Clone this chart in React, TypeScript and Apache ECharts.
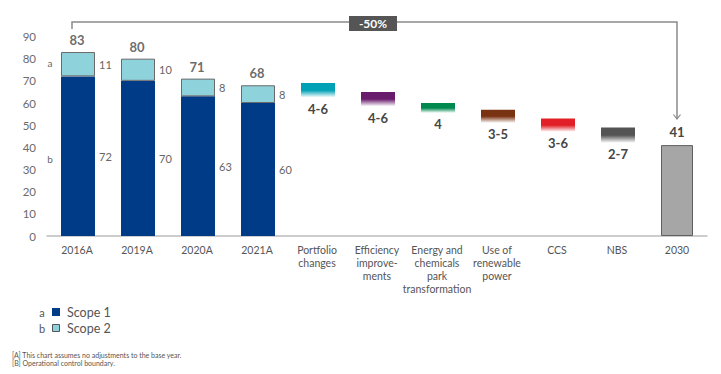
import React, { useEffect, useRef } from "react";
import * as echarts from "echarts";

const categories = [
  "2016A",
  "2019A",
  "2020A",
  "2021A",
  "Portfolio\nchanges",
  "Efficiency\nimprove-\nments",
  "Energy and\nchemicals\npark\ntransformation",
  "Use of\nrenewable\npower",
  "CCS",
  "NBS",
  "2030",
];

const scope1 = [72, 70, 63, 60];
const scope2 = [11, 10, 8, 8];
const totals = [83, 80, 71, 68];

// floating reduction bars (low end, high end) for levers
const leverLow = [62.5, 58.5, 55.5, 51, 47, 42];
const leverHigh = [69, 65, 60, 57, 53, 49];
const leverLabels = ["4-6", "4-6", "4", "3-5", "3-6", "2-7"];
const leverColors = ["#00A0B5", "#6A1C6C", "#00894F", "#7A3312", "#E21F26", "#545454"];

const target2030 = 41;
const yTicks = { min: 0, max: 90, interval: 10 };

const FONT = "Lato";

export default function App() {
  const ref = useRef<HTMLDivElement>(null);

  useEffect(() => {
    if (!ref.current) return;
    const chart = echarts.init(ref.current, null, { renderer: "svg" });
    const n = categories.length;
    const blank = (k: number) => Array.from({ length: k }, () => "-");

    const scope1Data = [...scope1, ...blank(n - scope1.length)];
    const scope2Data = [...scope2, ...blank(n - scope2.length)];
    const totalsData = [...totals, ...blank(n - totals.length)];

    const baseData = [
      ...blank(4),
      ...leverLow,
      "-",
    ];
    const rangeData: any[] = [
      ...blank(4),
      ...leverLow.map((lo, i) => ({
        value: +(leverHigh[i] - lo).toFixed(2),
        itemStyle: {
          color: new echarts.graphic.LinearGradient(0, 0, 0, 1, [
            { offset: 0, color: leverColors[i] },
            { offset: 0.5, color: leverColors[i] },
            { offset: 1, color: "#ffffff" },
          ]),
        },
        label: {
          show: true,
          position: "bottom",
          distance: 5,
          formatter: leverLabels[i],
          fontFamily: FONT,
          fontWeight: "bold",
          fontSize: 13,
          color: "#454545",
        },
      })),
      "-",
    ];
    const finalData = [...blank(n - 1), target2030];

    const labelStyle = { fontFamily: FONT, fontSize: 11, color: "#666" };

    chart.setOption({
      animation: false,
      textStyle: { fontFamily: FONT },
      grid: { left: 47, right: 14, top: 36.5, bottom: 138, containLabel: false },
      xAxis: {
        type: "category",
        data: categories,
        axisLine: { lineStyle: { color: "#bdbdbd", width: 1.5 } },
        axisTick: { show: false },
        axisLabel: {
          interval: 0,
          fontFamily: FONT,
          fontSize: 10.5,
          lineHeight: 13,
          color: "#555",
          margin: 7,
        },
      },
      yAxis: {
        type: "value",
        min: yTicks.min,
        max: yTicks.max,
        interval: yTicks.interval,
        axisLine: { show: false },
        axisTick: { show: false },
        splitLine: { show: false },
        axisLabel: { fontFamily: FONT, fontSize: 11.5, color: "#6b6b6b", margin: 11 },
      },
      series: [
        {
          name: "Scope 1",
          type: "bar",
          stack: "a",
          barWidth: 34,
          barGap: "-100%",
          data: scope1Data,
          itemStyle: { color: "#003B87" },
          label: { show: true, position: "right", distance: 4, ...labelStyle },
        },
        {
          name: "Scope 2",
          type: "bar",
          stack: "a",
          barWidth: 34,
          barGap: "-100%",
          data: scope2Data,
          itemStyle: { color: "#8ED2DC", borderColor: "#6a6a6a", borderWidth: 1 },
          label: { show: true, position: "right", distance: 4, ...labelStyle },
        },
        {
          name: "base",
          type: "bar",
          stack: "b",
          barWidth: 34,
          barGap: "-100%",
          data: baseData,
          itemStyle: { color: "transparent" },
          silent: true,
        },
        {
          name: "levers",
          type: "bar",
          stack: "b",
          barWidth: 34,
          barGap: "-100%",
          data: rangeData,
        },
        {
          name: "2030",
          type: "bar",
          stack: "c",
          barWidth: 32,
          barGap: "-100%",
          data: finalData,
          itemStyle: { color: "#A6A6A6", borderColor: "#5f5f5f", borderWidth: 1 },
          label: {
            show: true,
            position: "top",
            distance: 7,
            fontFamily: FONT,
            fontWeight: "bold",
            fontSize: 13,
            color: "#454545",
          },
        },
        {
          name: "totals",
          type: "scatter",
          symbolSize: 1,
          itemStyle: { color: "transparent" },
          data: totalsData,
          label: {
            show: true,
            position: "top",
            distance: 5,
            fontFamily: FONT,
            fontWeight: "bold",
            fontSize: 13,
            color: "#454545",
          },
        },
      ],
      graphic: [
        {
          type: "polyline",
          shape: { points: [[72, 29], [72, 22], [677, 22], [677, 119]] },
          style: { stroke: "#8a8a8a", lineWidth: 1.5, fill: "none" },
        },
        {
          type: "polyline",
          shape: { points: [[673.5, 114.5], [677, 119], [680.5, 114.5]] },
          style: { stroke: "#8a8a8a", lineWidth: 1.2, fill: "none" },
        },
        { type: "rect", shape: { x: 349, y: 16, width: 48, height: 15 }, style: { fill: "#555555" } },
        {
          type: "text",
          x: 373,
          y: 23.5,
          style: {
            text: "-50%",
            fill: "#ffffff",
            fontFamily: FONT,
            fontWeight: "bold",
            fontSize: 12,
            align: "center",
            verticalAlign: "middle",
          },
        },
        {
          type: "text",
          x: 50,
          y: 63,
          style: { text: "a", fill: "#666", fontFamily: FONT, fontSize: 10, align: "center", verticalAlign: "middle" },
        },
        {
          type: "text",
          x: 50,
          y: 159,
          style: { text: "b", fill: "#666", fontFamily: FONT, fontSize: 10, align: "center", verticalAlign: "middle" },
        },
        // legend
        {
          type: "text",
          x: 42,
          y: 312,
          style: { text: "a", fill: "#555", fontFamily: FONT, fontSize: 11, align: "center", verticalAlign: "middle" },
        },
        { type: "rect", shape: { x: 52, y: 308, width: 8, height: 8 }, style: { fill: "#003B87" } },
        {
          type: "text",
          x: 67,
          y: 312,
          style: { text: "Scope 1", fill: "#555", fontFamily: FONT, fontSize: 12.5, verticalAlign: "middle" },
        },
        {
          type: "text",
          x: 42,
          y: 328,
          style: { text: "b", fill: "#555", fontFamily: FONT, fontSize: 11, align: "center", verticalAlign: "middle" },
        },
        {
          type: "rect",
          shape: { x: 52.5, y: 324.5, width: 7, height: 7 },
          style: { fill: "#8ED2DC", stroke: "#555", lineWidth: 1 },
        },
        {
          type: "text",
          x: 67,
          y: 328,
          style: { text: "Scope 2", fill: "#555", fontFamily: FONT, fontSize: 12.5, verticalAlign: "middle" },
        },
        // footnotes
        {
          type: "text",
          x: 12,
          y: 355,
          style: {
            text: "[A] This chart assumes no adjustments to the base year.",
            fill: "#555",
            fontFamily: FONT,
            fontSize: 7,
            verticalAlign: "middle",
          },
        },
        {
          type: "text",
          x: 12,
          y: 363,
          style: {
            text: "[B] Operational control boundary.",
            fill: "#555",
            fontFamily: FONT,
            fontSize: 7,
            verticalAlign: "middle",
          },
        },
      ],
    });

    return () => chart.dispose();
  }, []);

  return (
    <div
      ref={ref}
      style={{ position: "fixed", left: 0, top: 0, width: 721, height: 374, background: "#fff" }}
    />
  );
}
